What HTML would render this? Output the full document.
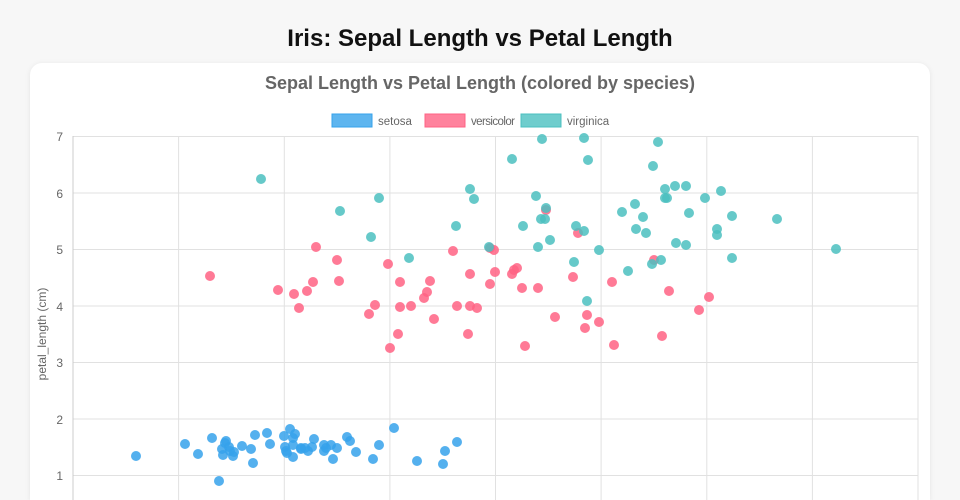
<!DOCTYPE html>
<html><head><meta charset="utf-8"><style>
html,body{margin:0;width:960px;height:500px;overflow:hidden;background:#f7f7f7;font-family:"Liberation Sans",sans-serif;}
.card{position:absolute;left:30px;top:63px;width:900px;height:437px;background:#fff;border-radius:12px 12px 0 0;box-shadow:0 1px 6px rgba(0,0,0,0.08);}
svg{position:absolute;left:0;top:0}
</style></head><body>
<div class="card"></div>
<svg width="960" height="500" xmlns="http://www.w3.org/2000/svg" font-family="Liberation Sans, sans-serif">
<text x="480" y="46" text-anchor="middle" font-size="24" font-weight="bold" fill="#111">Iris: Sepal Length vs Petal Length</text>
<text x="480" y="89" text-anchor="middle" font-size="18" font-weight="bold" fill="#666">Sepal Length vs Petal Length (colored by species)</text>
<rect x="332" y="114" width="40" height="13" fill="#36a2eb" fill-opacity="0.8" stroke="#36a2eb"/>
<text x="378" y="125" font-size="11.5" fill="#666">setosa</text>
<rect x="425" y="114" width="40" height="13" fill="#ff6384" fill-opacity="0.8" stroke="#ff6384"/>
<text x="471" y="125" font-size="11.5" fill="#666" textLength="44">versicolor</text>
<rect x="521" y="114" width="40" height="13" fill="#4bc0c0" fill-opacity="0.8" stroke="#4bc0c0"/>
<text x="567" y="125" font-size="11.5" fill="#666">virginica</text>
<g stroke="#e1e1e1" stroke-width="1">
<line x1="73" y1="136.5" x2="918" y2="136.5"/><line x1="73" y1="193" x2="918" y2="193"/><line x1="73" y1="249.5" x2="918" y2="249.5"/><line x1="73" y1="306" x2="918" y2="306"/><line x1="73" y1="362.5" x2="918" y2="362.5"/><line x1="73" y1="419" x2="918" y2="419"/><line x1="73" y1="475.5" x2="918" y2="475.5"/>
<line x1="178.6" y1="136" x2="178.6" y2="500"/><line x1="284.3" y1="136" x2="284.3" y2="500"/><line x1="389.9" y1="136" x2="389.9" y2="500"/><line x1="495.5" y1="136" x2="495.5" y2="500"/><line x1="601.1" y1="136" x2="601.1" y2="500"/><line x1="706.8" y1="136" x2="706.8" y2="500"/><line x1="812.4" y1="136" x2="812.4" y2="500"/><line x1="918" y1="136" x2="918" y2="500"/>
</g>
<line x1="73" y1="136" x2="73" y2="500" stroke="#ccc"/>
<g font-size="12" fill="#666" text-anchor="end">
<text x="63" y="141">7</text><text x="63" y="198">6</text><text x="63" y="254">5</text><text x="63" y="311">4</text><text x="63" y="367">3</text><text x="63" y="424">2</text><text x="63" y="480">1</text>
</g>
<text transform="translate(46,334) rotate(-90)" text-anchor="middle" font-size="12" fill="#666">petal_length (cm)</text>
<g id="pts"></g>
</svg>
<script>
var S=[[136,456],[185,444],[198,454],[212,438],[219,481],[222,449],[225,443],[226,441],[223,455],[229,447],[233,456],[230,451],[234,452],[242,446],[251,449],[253,463],[255,435],[267,433],[270,444],[284,436],[285,447],[286,451],[287,453],[290,429],[293,438],[293,445],[293,457],[295,434],[301,448],[301,449],[308,451],[314,439],[324,451],[324,445],[326,448],[331,445],[333,459],[337,448],[347,437],[350,441],[356,452],[373,459],[379,445],[394,428],[417,461],[443,464],[445,451],[457,442],[312,447],[305,448]];
var V=[[210,276],[278,290],[294,294],[299,308],[307,291],[313,282],[316,247],[337,260],[339,281],[369,314],[375,305],[388,264],[390,348],[398,334],[400,282],[400,307],[411,306],[424,298],[427,292],[430,281],[434,319],[453,251],[457,306],[468,334],[470,274],[470,306],[477,308],[490,248],[490,284],[494,250],[495,272],[512,274],[514,270],[517,268],[522,288],[525,346],[538,288],[546,210],[555,317],[573,277],[578,233],[585,328],[587,315],[599,322],[612,282],[614,345],[654,260],[662,336],[669,291],[699,310],[709,297]];
var G=[[261,179],[340,211],[371,237],[379,198],[409,258],[456,226],[470,189],[474,199],[489,247],[512,159],[523,226],[536,196],[538,247],[541,219],[542,139],[545,219],[546,208],[550,240],[574,262],[576,226],[584,138],[584,231],[587,301],[588,160],[599,250],[622,212],[628,271],[635,204],[636,229],[643,217],[646,233],[652,264],[653,166],[658,142],[661,260],[665,189],[665,198],[667,198],[676,243],[675,186],[686,186],[689,213],[686,245],[705,198],[717,229],[717,235],[721,191],[732,216],[732,258],[777,219],[836,249]];
var g=document.getElementById('pts'),h='';
function add(a,c){a.forEach(function(p){h+='<circle cx="'+p[0]+'" cy="'+p[1]+'" r="5" fill="'+c+'" fill-opacity="0.85"/>';});}
add(S,'#36a2eb');add(V,'#ff6384');add(G,'#4bc0c0');
g.innerHTML=h;
</script>
</body></html>
